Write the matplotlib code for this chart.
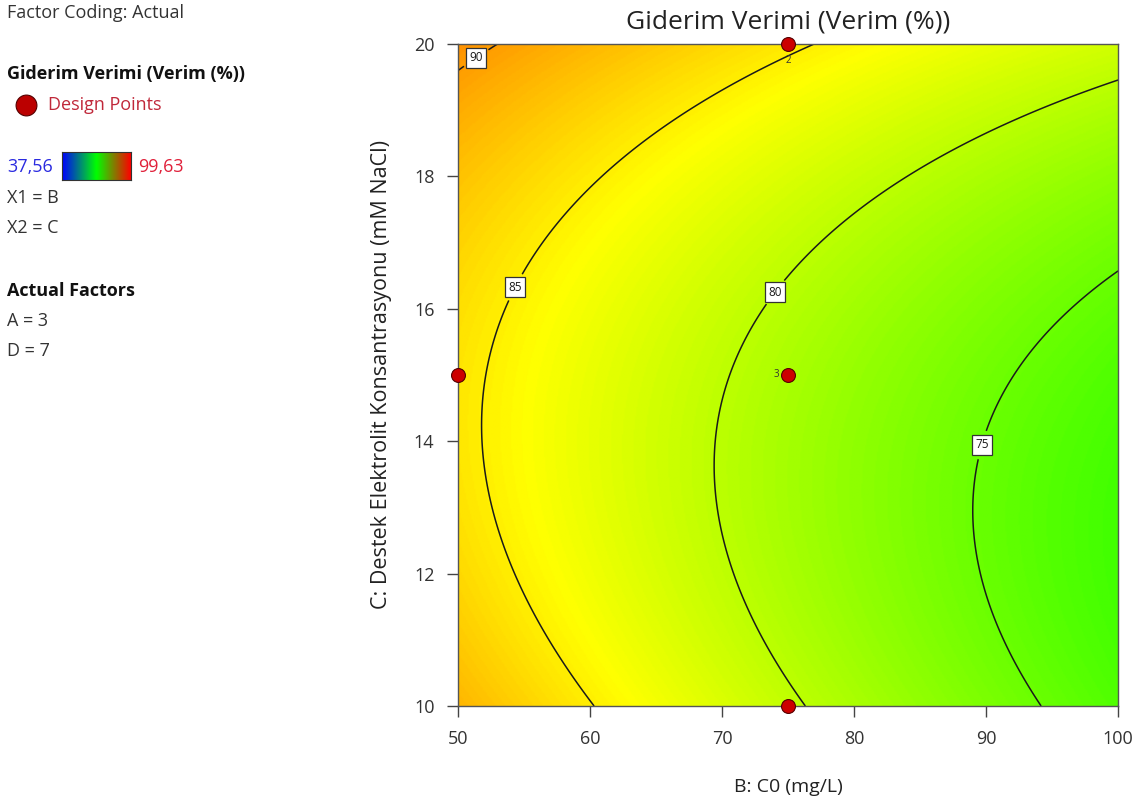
import numpy as np
import matplotlib.pyplot as plt
from matplotlib.colors import LinearSegmentedColormap

plt.rcParams['font.family'] = ['Open Sans', 'DejaVu Sans']

# quadratic response model, coded units (B: 50..100 mg/L, C: 10..20 mM)
b0 = 78.90
bB = -6.11
bC = 2.49
bBB = 0.60
bCC = 3.98
bBC = 1.38

B_range = [50, 100]
C_range = [10, 20]
levels = [75, 80, 85, 90]
label_pos = [(89.2, 13.97), (73.7, 16.3), (54.1, 16.35), (51.2, 19.84)]

design_B = [50, 75, 75, 75]
design_C = [15, 15, 20, 10]

resp_min = 37.56
resp_max = 99.63

xticks = [50, 60, 70, 80, 90, 100]
yticks = [10, 12, 14, 16, 18, 20]

B = np.linspace(B_range[0], B_range[1], 500)
C = np.linspace(C_range[0], C_range[1], 500)
BB, CC = np.meshgrid(B, C)
x = (BB - 75) / 25
z = (CC - 15) / 5
Y = b0 + bB * x + bC * z + bBB * x**2 + bCC * z**2 + bBC * x * z

field_cmap = LinearSegmentedColormap.from_list(
    'de', [(0, (0, 0, 1)), (0.5, (0, 1, 0)), (0.75, (1, 1, 0)), (1, (1, 0, 0))])
bar_cmap = LinearSegmentedColormap.from_list(
    'bar', [(0, (0, 0, 1)), (0.5, (0, 1, 0)), (1, (1, 0, 0))])

fig = plt.figure(figsize=(11.38, 8.06), dpi=100)
ax = fig.add_axes([0.4025, 0.1241, 0.58, 0.8213])

ax.imshow(Y, origin='lower', extent=[B_range[0], B_range[1], C_range[0], C_range[1]],
          aspect='auto', cmap=field_cmap, vmin=resp_min, vmax=resp_max,
          interpolation='bilinear')
cs = ax.contour(BB, CC, Y, levels=levels, colors='#1a1a1a', linewidths=1.1)
labels = ax.clabel(cs, fmt='%d', fontsize=8.5, inline=True, inline_spacing=8,
                   manual=label_pos)
for t in labels:
    t.set_rotation(0)
    t.set_bbox(dict(boxstyle='square,pad=0.3', fc='white', ec='#333333', lw=0.9))

ax.plot(design_B, design_C, 'o', ms=10, mfc='#cc0000', mec='#550000', mew=0.8,
        clip_on=False, zorder=5)
ax.text(74.3, 15, '3', fontsize=7, color='#333333', ha='right', va='center')
ax.text(75, 19.75, '2', fontsize=7, color='#333333', ha='center', va='center')

ax.set_xlim(B_range)
ax.set_ylim(C_range)
ax.set_xticks(xticks)
ax.set_yticks(yticks)
ax.tick_params(direction='out', length=8, width=1, colors='#444444',
               labelsize=13, labelcolor='#333333', pad=9)
for s in ax.spines.values():
    s.set_color('#555555')
    s.set_linewidth(1)

ax.set_title('Giderim Verimi (Verim (%))', fontsize=19, color='#222222', pad=11)
ax.set_xlabel('B: C0 (mg/L)', fontsize=14, color='#222222', labelpad=22)
ax.set_ylabel('C: Destek Elektrolit Konsantrasyonu (mM NaCl)', fontsize=15.5,
              color='#222222', labelpad=16)

# left-hand legend panel
def ftxt(px, py, s, **kw):
    fig.text(px / 1138, 1 - py / 806, s, va='center', ha='left', **kw)

ftxt(7, 13, 'Factor Coding: Actual', fontsize=13, color='#333333')
ftxt(7, 74, 'Giderim Verimi (Verim (%))', fontsize=13, color='#111111',
     fontweight='bold')
fig.lines.append(plt.Line2D([26 / 1138], [1 - 105 / 806], transform=fig.transFigure,
                            marker='o', ms=15, mfc='#bb0000', mec='#550000', mew=0.8))
ftxt(48, 105, 'Design Points', fontsize=13, color='#c0283a')
ftxt(7, 167, f'{resp_min:.2f}'.replace('.', ','), fontsize=13, color='#2a2ae0')
ftxt(138, 167, f'{resp_max:.2f}'.replace('.', ','), fontsize=13, color='#e0203a')
cax = fig.add_axes([62 / 1138, 1 - 180 / 806, 69 / 1138, 28 / 806])
cax.imshow(np.linspace(0, 1, 256)[None, :], aspect='auto', cmap=bar_cmap)
cax.set_xticks([])
cax.set_yticks([])
for s in cax.spines.values():
    s.set_color('#333333')
ftxt(7, 198, 'X1 = B', fontsize=13, color='#333333')
ftxt(7, 228, 'X2 = C', fontsize=13, color='#333333')
ftxt(7, 291, 'Actual Factors', fontsize=13, color='#111111', fontweight='bold')
ftxt(7, 321, 'A = 3', fontsize=13, color='#333333')
ftxt(7, 351, 'D = 7', fontsize=13, color='#333333')

fig.savefig('out.png', dpi=100)
